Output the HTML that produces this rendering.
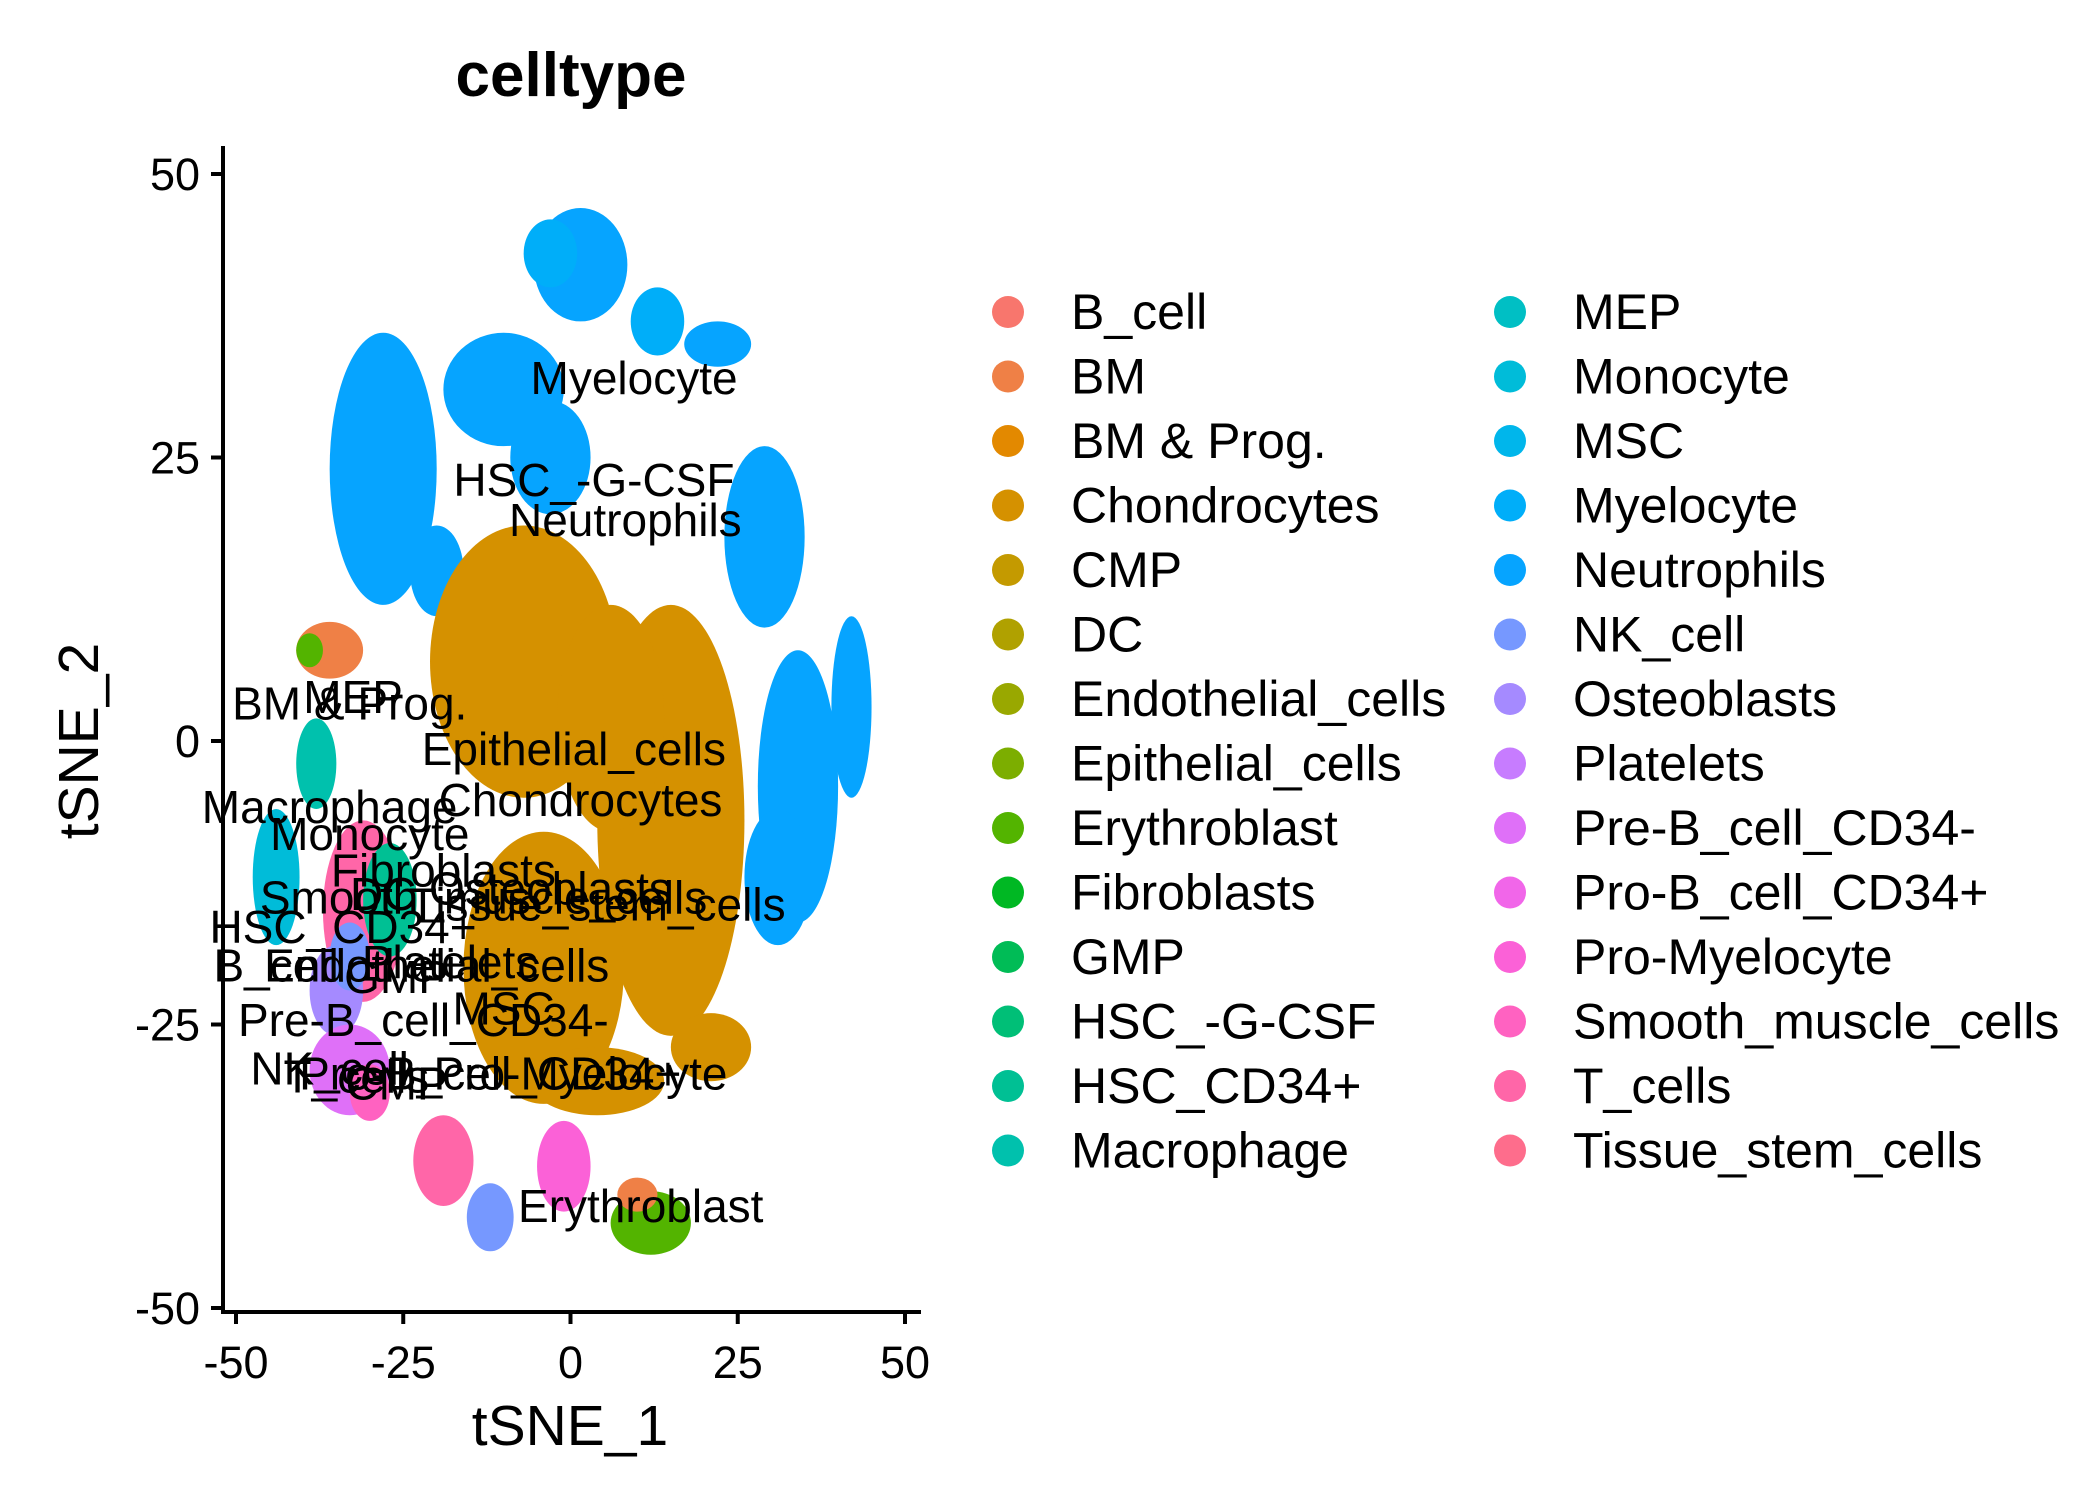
<!DOCTYPE html>
<html><head><meta charset="utf-8"><style>
html,body{margin:0;padding:0;background:#fff;}
svg{display:block;font-family:"Liberation Sans",sans-serif;}
</style></head><body>
<svg id="chart" width="2100" height="1500" viewBox="0 0 2100 1500" xmlns="http://www.w3.org/2000/svg">
<text x="571" y="96" text-anchor="middle" font-size="62" font-weight="bold">celltype</text>
<g id="blobs"></g>
<g id="labels"></g>
<g id="axes"></g>
<g id="legend"></g>
<text x="570" y="1445" text-anchor="middle" font-size="57">tSNE_1</text>
<text transform="translate(98,741) rotate(-90)" text-anchor="middle" font-size="57">tSNE_2</text>
</svg>
<script>
const categories=["B_cell","BM","BM & Prog.","Chondrocytes","CMP","DC","Endothelial_cells","Epithelial_cells","Erythroblast","Fibroblasts","GMP","HSC_-G-CSF","HSC_CD34+","Macrophage","MEP","Monocyte","MSC","Myelocyte","Neutrophils","NK_cell","Osteoblasts","Platelets","Pre-B_cell_CD34-","Pro-B_cell_CD34+","Pro-Myelocyte","Smooth_muscle_cells","T_cells","Tissue_stem_cells"];
// cluster blobs: category index, centre x, centre y, radius x, radius y (data units)
const blobCat=[18,17,18,18,18,18,18,18,18,18,17,18,3,3,3,3,3,3,1,8,13,15,26,12,20,22,25,19,26,24,19,8,1];
const blobX=[1.5,13,22,-28,-10,-3,-20,29,34,42,-3,31,-7,15,-4,21,4,6,-36,-39,-38,-44,-31,-27,-35,-33,-30,-33,-19,-1,-12,12,10];
const blobY=[42,37,35,24,31,25,15,18,-4,3,43,-12,7,-7,-20,-27,-30,2,8,8,-2,-12,-15,-14,-22,-29,-31,-19,-37,-37.5,-42,-42.5,-40];
const blobRX=[7,4,5,8,9,6,4,6,6,3,4,5,14,11,12,6,10,8,5,2,3,3.5,6,4,4,6,3,3,4.5,4,3.5,6,3];
const blobRY=[5,3,2,12,5,5,4,8,12,8,3,6,12,19,12,3,3,10,2.5,1.5,4,6,8,5,4,4,2.5,3,4,4,3,2.8,1.5];
// cluster label positions (data coords)
const labelText=["Myelocyte","HSC_-G-CSF","Neutrophils","BM & Prog.","MEP","Epithelial_cells","Chondrocytes","Macrophage","Monocyte","Fibroblasts","DC","Osteoblasts","Smooth_muscle_cells","Tissue_stem_cells","HSC_CD34+","B_cell","Endothelial_cells","Platelets","GMP","MSC","Pre-B_cell_CD34-","NK_cell","T_cells","CMP","Pro-B_cell_CD34+","Pro-Myelocyte","Erythroblast"];
const labelX=[9.5,3.5,8.2,-33,-32.5,0.5,1.5,-36,-30,-19,-28,-3,-13,4,-34,-44,-20,-18,-26,-10,-22,-36,-32,-26,-12,1.5,10.5];
const labelY=[32,23,19.5,3.3,3.9,-0.7,-5.2,-5.8,-8.2,-11.4,-13.5,-13,-13.8,-14.4,-16.4,-19.8,-19.8,-19.5,-20.8,-23.6,-24.6,-28.9,-29.6,-30.2,-29.3,-29.3,-41];
const xTicks=[-50,-25,0,25,50];
const yTicks=[-50,-25,0,25,50];

const NS="http://www.w3.org/2000/svg";
const X=v=>236+(v+50)*6.69;
const Y=v=>741-v*11.34;
function hcl(h){const L=65,C=100,r=h*Math.PI/180;const u=C*Math.cos(r),v=C*Math.sin(r);
const Xn=95.047,Yn=100,Zn=108.883,d=Xn+15*Yn+3*Zn,un=4*Xn/d,vn=9*Yn/d;
const Yv=Yn*Math.pow((L+16)/116,3);const up=u/(13*L)+un,vp=v/(13*L)+vn;
const Xv=9*Yv*up/(4*vp),Zv=Yv*(12-3*up-20*vp)/(4*vp);
const x=Xv/100,y=Yv/100,z=Zv/100;
let rgb=[3.2406*x-1.5372*y-0.4986*z,-0.9689*x+1.8758*y+0.0415*z,0.0557*x-0.2040*y+1.0570*z];
return 'rgb('+rgb.map(c=>{c=c<=0.0031308?12.92*c:1.055*Math.pow(c,1/2.4)-0.055;return Math.round(Math.max(0,Math.min(1,c))*255);}).join(',')+')';}
const n=categories.length;
const colors=categories.map((c,i)=>hcl(15+360*i/n));
function el(t,a,p){const e=document.createElementNS(NS,t);for(const k in a)e.setAttribute(k,a[k]);p.appendChild(e);return e;}
const gb=document.getElementById('blobs');
for(let i=0;i<blobCat.length;i++){
 const e=el('ellipse',{cx:X(blobX[i]),cy:Y(blobY[i]),rx:blobRX[i]*6.69,ry:blobRY[i]*11.34,fill:colors[blobCat[i]]},gb);
 
 
}
const gl=document.getElementById('labels');
for(let i=0;i<labelText.length;i++){
 const t=el('text',{x:X(labelX[i]),y:Y(labelY[i])+16,'text-anchor':'middle','font-size':46},gl);
 t.textContent=labelText[i];
 
 
}
const ga=document.getElementById('axes');
el('line',{x1:223,y1:146,x2:223,y2:1313,stroke:'#000','stroke-width':4},ga);
el('line',{x1:221,y1:1312,x2:921,y2:1312,stroke:'#000','stroke-width':4},ga);
xTicks.forEach(v=>{el('line',{x1:X(v),y1:1312,x2:X(v),y2:1324,stroke:'#000','stroke-width':4},ga);
 const t=el('text',{x:X(v),y:1378,'text-anchor':'middle','font-size':45},ga);t.textContent=v;
 
 });
yTicks.forEach(v=>{el('line',{x1:211,y1:Y(v),x2:223,y2:Y(v),stroke:'#000','stroke-width':4},ga);
 const t=el('text',{x:200,y:Y(v)+16,'text-anchor':'end','font-size':45},ga);t.textContent=v;
 
 });
const gL=document.getElementById('legend');
categories.forEach((c,i)=>{const col=Math.floor(i/14),row=i%14;
 const g=el('g',{},gL);
 
 
 const cx=col?1510:1008,ty=312+row*64.5;
 el('circle',{cx:cx,cy:ty,r:16,fill:colors[i]},g);
 const t=el('text',{x:col?1573:1071,y:ty+17,'font-size':50},g);t.textContent=c;});
</script>
</body></html>
